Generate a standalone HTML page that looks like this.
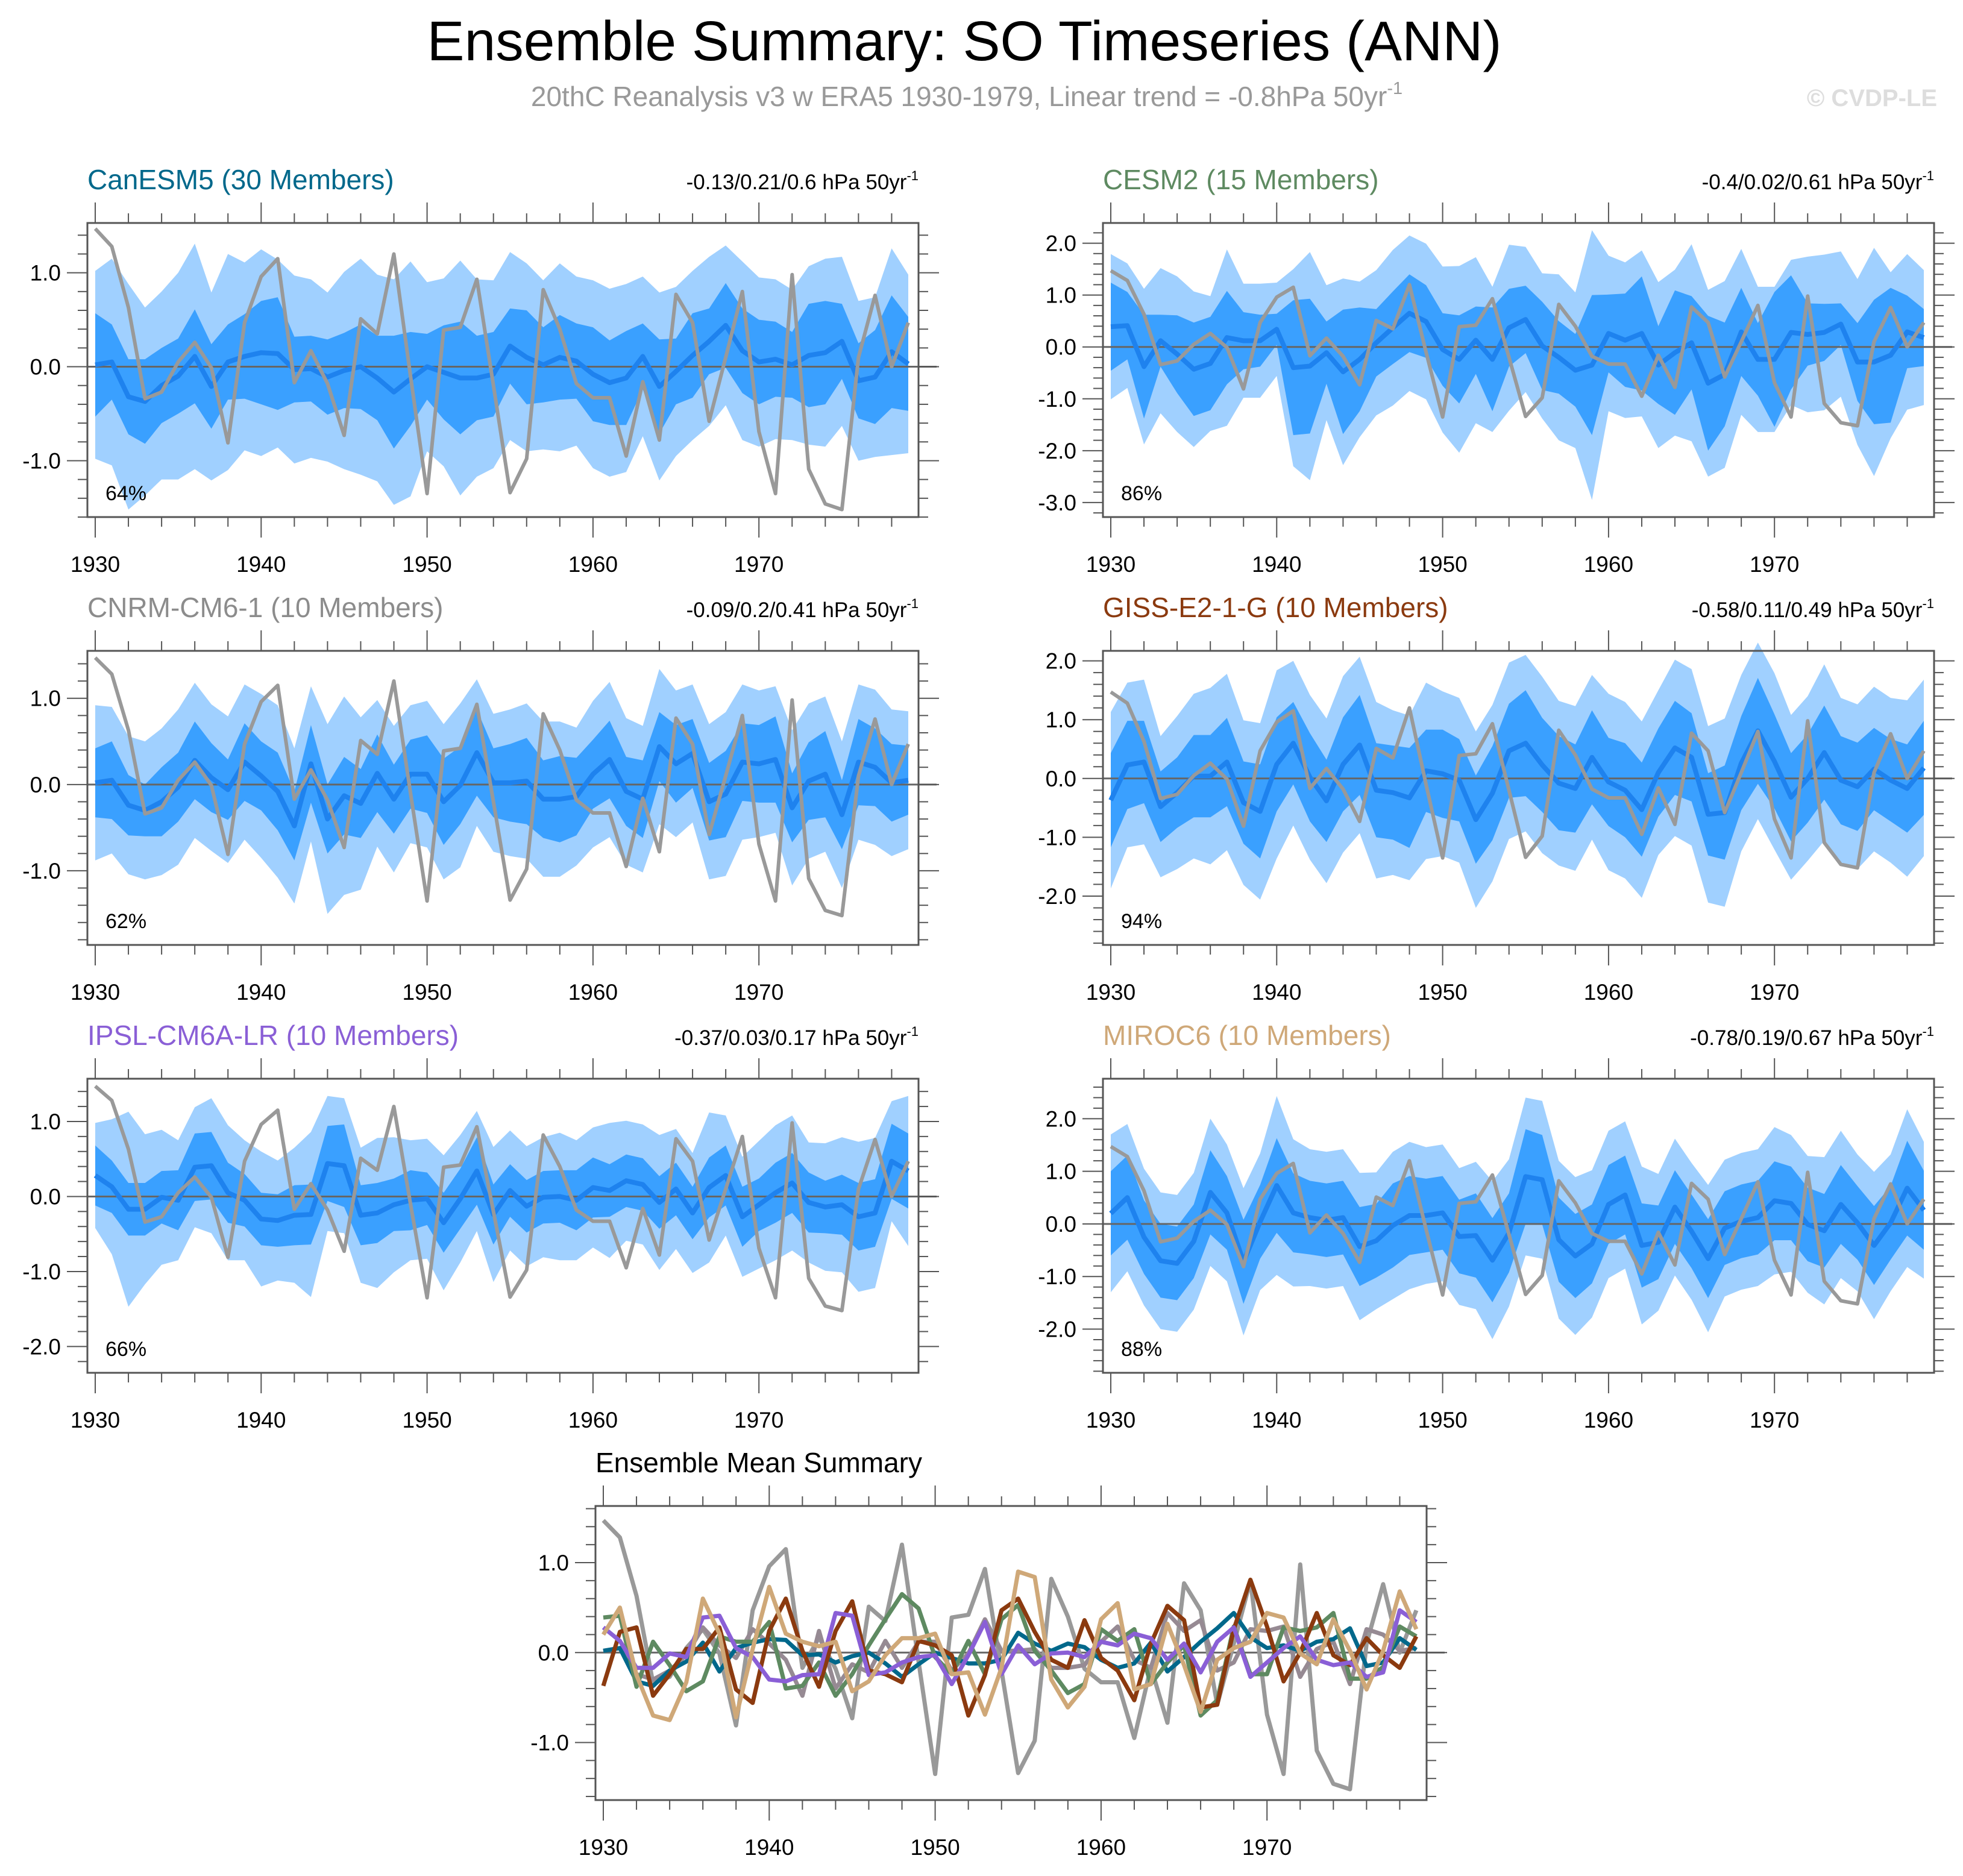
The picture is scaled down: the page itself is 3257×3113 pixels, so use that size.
<!DOCTYPE html>
<html><head><meta charset="utf-8"><title>Ensemble Summary: SO Timeseries (ANN)</title>
<style>html,body{margin:0;padding:0;background:#fff}svg{display:block;font-family:"Liberation Sans",sans-serif}</style>
</head><body>
<svg id="fig" xmlns="http://www.w3.org/2000/svg" width="3257" height="3113" viewBox="0 0 3257 3113">
<rect width="3257" height="3113" fill="#fff"/>
<text x="1600" y="100" font-size="93" text-anchor="middle" fill="#000">Ensemble Summary: SO Timeseries (ANN)</text>
<text x="1604" y="176" font-size="46" text-anchor="middle" fill="#999">20thC Reanalysis v3 w ERA5 1930-1979, Linear trend = -0.8hPa 50yr<tspan dy="-20" font-size="29">-1</tspan></text>
<text x="3214" y="176" font-size="40" font-weight="bold" text-anchor="end" fill="#ddd">© CVDP-LE</text>
<g id="plots"></g>
</svg>
<script>
const years = [];
for (let y = 1930; y <= 1979; y++) years.push(y);
const obs = [1.47,1.28,0.63,-0.34,-0.27,0.05,0.26,-0.01,-0.81,0.47,0.96,1.15,-0.17,0.17,-0.18,-0.73,0.51,0.35,1.2,-0.1,-1.35,0.39,0.42,0.93,-0.2,-1.34,-0.98,0.82,0.4,-0.18,-0.33,-0.33,-0.95,-0.16,-0.78,0.77,0.47,-0.58,0.1,0.8,-0.69,-1.35,0.98,-1.09,-1.46,-1.52,0.1,0.76,0.0,0.47];
const meanCan = [0.02,0.05,-0.32,-0.37,-0.2,-0.1,0.11,-0.21,0.05,0.11,0.15,0.14,-0.03,-0.02,-0.11,-0.04,0,-0.12,-0.27,-0.13,0,-0.06,-0.12,-0.12,-0.08,0.22,0.1,0.02,0.1,0.06,-0.08,-0.17,-0.12,0.11,-0.21,-0.05,0.12,0.27,0.44,0.17,0.05,0.08,0.02,0.12,0.15,0.27,-0.15,-0.11,0.16,0.03];
const meanCesm = [0.39,0.41,-0.38,0.12,-0.14,-0.43,-0.32,0.18,0.12,0.12,0.34,-0.4,-0.37,-0.11,-0.48,-0.24,0.08,0.37,0.65,0.49,-0.05,-0.24,0.13,-0.24,0.37,0.53,0.02,-0.2,-0.45,-0.35,0.26,0.13,0.26,-0.35,-0.11,0.08,-0.7,-0.53,0.29,-0.24,-0.24,0.28,0.24,0.28,0.44,-0.29,-0.29,-0.16,0.29,0.18];
const meanCnrm = [0.02,0.05,-0.24,-0.3,-0.2,-0.03,0.28,0.08,-0.06,0.26,0.1,-0.08,-0.48,0.24,-0.4,-0.13,-0.22,0.13,-0.17,0.12,0.12,-0.2,-0.01,0.37,0.02,0.02,0.04,-0.17,-0.17,-0.14,0.12,0.29,-0.08,-0.17,0.44,0.24,0.36,-0.2,-0.11,0.26,0.24,0.29,-0.27,0.04,0.12,-0.35,0.26,0.2,0.02,0.05];
const meanGiss = [-0.37,0.23,0.28,-0.48,-0.24,0.04,0.04,0.28,-0.41,-0.56,0.24,0.6,0.02,-0.38,0.24,0.57,-0.2,-0.24,-0.33,0.13,0.08,-0.03,-0.7,-0.25,0.47,0.6,0.23,-0.08,-0.17,0.36,-0.06,-0.2,-0.53,0.1,0.52,0.36,-0.61,-0.58,0.26,0.81,0.29,-0.32,0,0.44,-0.03,-0.14,0.16,-0.03,-0.17,0.18];
const meanIpsl = [0.28,0.13,-0.17,-0.17,-0.01,-0.05,0.39,0.41,0.05,-0.05,-0.3,-0.32,-0.25,-0.24,0.44,0.41,-0.25,-0.22,-0.11,-0.05,-0.03,-0.35,-0.03,0.34,-0.24,0.08,-0.13,-0.01,0,-0.05,0.12,0.08,0.21,0.16,-0.08,0.1,-0.22,0.12,0.28,-0.27,-0.11,0.05,0.18,-0.08,-0.14,-0.11,-0.27,-0.22,0.47,0.34];
const meanMiroc = [0.2,0.5,-0.25,-0.7,-0.75,-0.33,0.6,0.21,-0.72,0.04,0.73,0.21,0.12,0.07,0.12,-0.43,-0.32,-0.03,0.16,0.16,0.21,-0.24,-0.22,-0.69,-0.17,0.9,0.84,-0.3,-0.61,-0.38,0.37,0.55,-0.41,-0.35,0.32,-0.14,-0.66,-0.08,0.05,0.12,0.44,0.39,-0.01,-0.13,0.37,0.02,-0.41,0.02,0.68,0.26];
const innerCan = [0.55,0.4,0.4,0.45,0.4,0.4,0.5,0.45,0.4,0.45,0.55,0.6,0.35,0.35,0.4,0.4,0.45,0.45,0.6,0.5,0.35,0.5,0.6,0.45,0.45,0.4,0.5,0.4,0.45,0.4,0.5,0.45,0.5,0.35,0.5,0.35,0.45,0.35,0.45,0.45,0.45,0.4,0.35,0.55,0.55,0.4,0.4,0.5,0.6,0.5];
const outerCan = [1.0,1.1,1.2,1.0,1.0,1.1,1.2,1.0,1.15,1.0,1.1,1.0,1.0,0.95,0.9,1.05,1.15,1.1,1.2,1.25,0.9,1.0,1.25,1.05,1.0,1.0,1.0,0.9,1.0,0.9,1.0,1.0,1.0,0.85,1.0,0.9,0.9,0.9,0.85,0.95,0.9,0.85,0.8,0.95,1.0,0.9,0.85,0.85,1.1,0.95];
const innerCesm = [0.85,0.65,1.0,0.5,0.75,0.9,0.9,0.9,0.55,0.5,0.3,1.3,1.3,0.6,1.2,1.0,0.65,0.7,0.75,0.7,0.7,0.85,0.65,1.0,0.75,0.65,0.85,0.7,0.7,1.35,0.75,0.9,1.1,0.75,1.2,0.9,1.3,1.0,0.85,0.7,1.3,1.1,0.6,0.55,0.4,0.75,1.2,1.3,0.7,0.55];
const outerCesm = [1.4,1.2,1.5,1.4,1.5,1.5,1.3,1.7,1.1,1.1,0.9,1.9,2.2,1.3,1.8,1.5,1.4,1.5,1.5,1.5,1.6,1.8,1.6,1.4,1.6,1.4,1.4,1.6,1.5,2.6,1.5,1.5,1.6,1.6,1.6,1.9,1.8,1.8,1.6,1.4,1.4,1.4,1.5,1.5,1.4,1.6,2.2,1.6,1.5,1.3];
const innerCnrm = [0.4,0.45,0.35,0.3,0.4,0.4,0.45,0.4,0.35,0.45,0.4,0.45,0.4,0.45,0.4,0.45,0.4,0.45,0.4,0.4,0.45,0.5,0.45,0.5,0.4,0.45,0.5,0.45,0.5,0.45,0.4,0.45,0.4,0.45,0.4,0.45,0.4,0.45,0.5,0.45,0.45,0.5,0.4,0.45,0.5,0.4,0.5,0.45,0.45,0.4];
const outerCnrm = [0.9,0.85,0.8,0.8,0.85,0.9,0.9,0.85,0.85,0.9,0.95,1.0,0.9,0.9,1.1,1.15,1.0,0.85,0.85,0.8,0.85,0.9,0.95,0.85,0.8,0.85,0.9,0.9,0.9,0.8,0.85,0.9,0.85,0.85,0.9,0.85,0.8,0.9,0.95,0.9,0.85,0.85,0.9,0.9,0.9,0.85,0.9,0.9,0.85,0.8];
const innerGiss = [0.8,0.75,0.7,0.6,0.6,0.7,0.7,0.75,0.7,0.8,0.8,0.7,0.75,0.7,0.8,0.85,0.8,0.8,0.85,0.7,0.75,0.7,0.75,0.8,0.8,0.9,0.8,0.8,0.75,0.8,0.75,0.8,0.8,0.75,0.8,0.75,0.7,0.8,0.8,0.9,0.8,0.75,0.75,0.8,0.75,0.75,0.7,0.7,0.75,0.8];
const outerGiss = [1.5,1.4,1.4,1.2,1.3,1.4,1.5,1.5,1.4,1.5,1.6,1.4,1.4,1.4,1.5,1.5,1.5,1.4,1.4,1.5,1.4,1.4,1.5,1.5,1.5,1.5,1.5,1.4,1.4,1.4,1.5,1.5,1.5,1.4,1.5,1.5,1.5,1.6,1.5,1.5,1.5,1.4,1.4,1.5,1.4,1.4,1.4,1.4,1.5,1.5];
const innerIpsl = [0.4,0.35,0.35,0.35,0.35,0.4,0.45,0.45,0.4,0.35,0.35,0.35,0.4,0.4,0.5,0.55,0.4,0.4,0.35,0.4,0.35,0.4,0.4,0.45,0.4,0.35,0.35,0.35,0.35,0.4,0.4,0.35,0.35,0.35,0.35,0.35,0.35,0.4,0.4,0.4,0.35,0.4,0.4,0.4,0.35,0.4,0.45,0.45,0.5,0.5];
const outerIpsl = [0.7,0.9,1.3,1.0,0.9,0.8,0.8,0.9,0.9,0.8,0.9,0.8,0.9,1.1,0.9,0.9,0.9,1.0,0.9,0.8,0.8,0.9,0.85,0.8,0.9,0.8,0.8,0.8,0.85,0.8,0.8,0.9,0.8,0.8,0.9,0.8,0.8,1.0,0.8,0.8,0.85,0.9,0.9,0.8,0.85,0.9,1.0,1.0,0.8,1.0];
const innerMiroc = [0.8,0.8,0.7,0.7,0.7,0.7,0.8,0.7,0.8,0.7,0.9,0.75,0.7,0.7,0.7,0.75,0.7,0.8,0.75,0.7,0.7,0.7,0.8,0.8,0.75,0.9,0.85,0.8,0.8,0.75,0.75,0.75,0.8,0.7,0.7,0.7,0.75,0.7,0.7,0.7,0.75,0.7,0.7,0.7,0.75,0.7,0.75,0.7,0.9,0.75];
const outerMiroc = [1.5,1.4,1.3,1.3,1.3,1.3,1.4,1.3,1.4,1.3,1.7,1.4,1.3,1.3,1.3,1.4,1.3,1.4,1.4,1.3,1.3,1.3,1.4,1.5,1.4,1.5,1.5,1.5,1.5,1.4,1.4,1.4,1.5,1.3,1.3,1.3,1.4,1.3,1.3,1.3,1.4,1.3,1.3,1.4,1.4,1.3,1.4,1.3,1.5,1.3];
const yTicksCan = [-1, 0, 1];
const yTicksCesm = [-3, -2, -1, 0, 1, 2];
const yTicksCnrm = [-1, 0, 1];
const yTicksGiss = [-2, -1, 0, 1, 2];
const yTicksIpsl = [-2, -1, 0, 1];
const yTicksMiroc = [-2, -1, 0, 1, 2];
const xTicks = [1930, 1940, 1950, 1960, 1970];

const NS = 'http://www.w3.org/2000/svg';
const root = document.getElementById('plots');
function mk(tag, attrs, parent) {
  const e = document.createElementNS(NS, tag);
  for (const k in attrs) e.setAttribute(k, attrs[k]);
  (parent || root).appendChild(e);
  return e;
}
function panel(o) {
  const g = mk('g', {});
  
  
  const L = o.x, R = o.x + 1379, T = o.y, B = o.y + 488;
  const xs = yr => L + 13 + (yr - 1930) * 27.53;
  const ys = v => T + (o.ymax - v) / (o.ymax - o.ymin) * (B - T);
  const t = mk('text', {x: L, y: T - 56, 'font-size': 46, fill: o.color}, g);
  t.textContent = o.title;
  
  
  if (o.stat) {
    const s = mk('text', {x: R, y: T - 56, 'font-size': 35, 'text-anchor': 'end', fill: '#000'}, g);
    s.innerHTML = o.stat + ' hPa 50yr<tspan dy="-15" font-size="22">-1</tspan>';
    
    
  }
  if (o.mean && o.outer) {
    const band = (w, col, nm) => {
      let d = '';
      years.forEach((yr, i) => d += (i ? 'L' : 'M') + xs(yr).toFixed(1) + ',' + ys(o.mean[i] + w[i]).toFixed(1));
      for (let i = years.length - 1; i >= 0; i--) d += 'L' + xs(years[i]).toFixed(1) + ',' + ys(o.mean[i] - w[i]).toFixed(1);
      const p = mk('path', {d: d + 'Z', fill: col}, g);
      
      
    };
    band(o.outer, '#a0d0ff', 'outer-spread-band');
    band(o.inner, '#3aa0ff', 'inner-spread-band');
  }
  const z = mk('line', {x1: L, x2: R + 30, y1: ys(0), y2: ys(0), stroke: '#666', 'stroke-width': 3}, g);
  
  
  const line = (vals, col, w, nm) => {
    let d = '';
    years.forEach((yr, i) => d += (i ? 'L' : 'M') + xs(yr).toFixed(1) + ',' + ys(vals[i]).toFixed(1));
    const p = mk('path', {d: d, fill: 'none', stroke: col, 'stroke-width': w, 'stroke-linejoin': 'round'}, g);
    
    
  };
  if (o.lines) {
    o.lines.forEach(l => line(l.v, l.c, 7, l.n));
  } else {
    line(o.mean, '#1e82ee', 8, 'ensemble-mean-line');
    line(obs, '#999', 6, 'observed-line');
  }
  const f = mk('rect', {x: L, y: T, width: R - L, height: B - T, fill: 'none', stroke: '#555', 'stroke-width': 3}, g);
  
  
  for (let yr = 1930; yr <= 1979; yr += 2) {
    const major = (yr % 10 === 0);
    const len = major ? 34 : 16;
    mk('line', {x1: xs(yr), x2: xs(yr), y1: T, y2: T - len, stroke: '#555', 'stroke-width': 2}, g);
    mk('line', {x1: xs(yr), x2: xs(yr), y1: B, y2: B + len, stroke: '#555', 'stroke-width': 2}, g);
  }
  xTicks.forEach(yr => {
    const tl = mk('text', {x: xs(yr), y: B + 91, 'font-size': 37, 'text-anchor': 'middle', fill: '#000'}, g);
    tl.textContent = yr;
    
    
  });
  for (let v = Math.ceil(o.ymin * 5) / 5; v <= o.ymax + 1e-9; v += 0.2) {
    const vv = Math.round(v * 10) / 10;
    const major = Math.abs(vv - Math.round(vv)) < 1e-6;
    const len = major ? 34 : 16;
    mk('line', {x1: L, x2: L - len, y1: ys(vv), y2: ys(vv), stroke: '#555', 'stroke-width': 2}, g);
    mk('line', {x1: R, x2: R + len, y1: ys(vv), y2: ys(vv), stroke: '#555', 'stroke-width': 2}, g);
  }
  o.yticks.forEach(v => {
    const tl = mk('text', {x: L - 44, y: ys(v) + 13, 'font-size': 37, 'text-anchor': 'end', fill: '#000'}, g);
    tl.textContent = v.toFixed(1);
    
    
  });
  if (o.pct) {
    const p = mk('text', {x: L + 30, y: B - 28, 'font-size': 34, fill: '#000'}, g);
    p.textContent = o.pct;
    
    
  }
}
const LX = 145, RX = 1830;
panel({name: 'canesm5-panel', x: LX, y: 370, ymin: -1.6, ymax: 1.53, title: 'CanESM5 (30 Members)', color: '#00688b', stat: '-0.13/0.21/0.6', mean: meanCan, inner: innerCan, outer: outerCan, yticks: yTicksCan, pct: '64%'});
panel({name: 'cesm2-panel', x: RX, y: 370, ymin: -3.28, ymax: 2.39, title: 'CESM2 (15 Members)', color: '#5e8a61', stat: '-0.4/0.02/0.61', mean: meanCesm, inner: innerCesm, outer: outerCesm, yticks: yTicksCesm, pct: '86%'});
panel({name: 'cnrm-panel', x: LX, y: 1080, ymin: -1.86, ymax: 1.55, title: 'CNRM-CM6-1 (10 Members)', color: '#8c8c8c', stat: '-0.09/0.2/0.41', mean: meanCnrm, inner: innerCnrm, outer: outerCnrm, yticks: yTicksCnrm, pct: '62%'});
panel({name: 'giss-panel', x: RX, y: 1080, ymin: -2.83, ymax: 2.17, title: 'GISS-E2-1-G (10 Members)', color: '#8b3a0f', stat: '-0.58/0.11/0.49', mean: meanGiss, inner: innerGiss, outer: outerGiss, yticks: yTicksGiss, pct: '94%'});
panel({name: 'ipsl-panel', x: LX, y: 1790, ymin: -2.35, ymax: 1.57, title: 'IPSL-CM6A-LR (10 Members)', color: '#8a5fd6', stat: '-0.37/0.03/0.17', mean: meanIpsl, inner: innerIpsl, outer: outerIpsl, yticks: yTicksIpsl, pct: '66%'});
panel({name: 'miroc6-panel', x: RX, y: 1790, ymin: -2.83, ymax: 2.76, title: 'MIROC6 (10 Members)', color: '#cfa878', stat: '-0.78/0.19/0.67', mean: meanMiroc, inner: innerMiroc, outer: outerMiroc, yticks: yTicksMiroc, pct: '88%'});
panel({name: 'ensemble-mean-summary-panel', x: 988, y: 2499, ymin: -1.64, ymax: 1.63, title: 'Ensemble Mean Summary', color: '#000', yticks: yTicksCan,
  lines: [
    {v: obs, c: '#999', n: 'observed-line'},
    {v: meanCnrm, c: '#968a93', n: 'cnrm-mean-line'},
    {v: meanCan, c: '#00688b', n: 'canesm5-mean-line'},
    {v: meanCesm, c: '#5e8a61', n: 'cesm2-mean-line'},
    {v: meanGiss, c: '#8b3a0f', n: 'giss-mean-line'},
    {v: meanIpsl, c: '#8a5fd6', n: 'ipsl-mean-line'},
    {v: meanMiroc, c: '#cfa878', n: 'miroc6-mean-line'}
  ]});
</script>
</body></html>
